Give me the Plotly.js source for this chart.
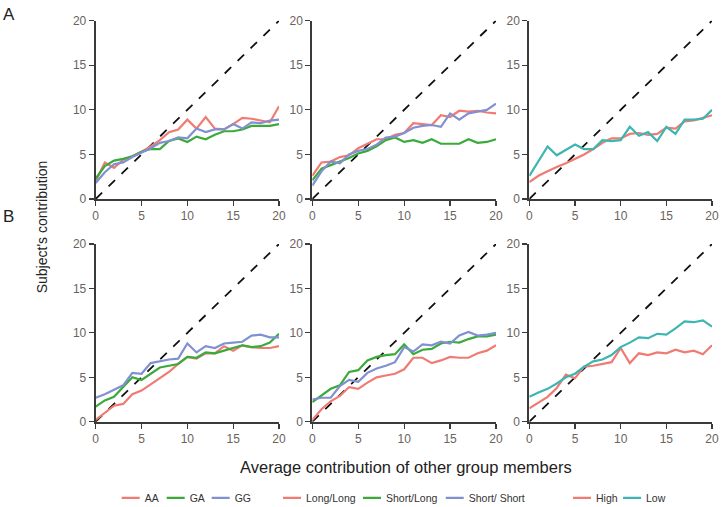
<!DOCTYPE html>
<html>
<head>
<meta charset="utf-8">
<script src="https://cdn.plot.ly/plotly-3.0.1.min.js"></script>
<style>html,body{margin:0;padding:0;background:#fff;}#chart{width:727px;height:507px;}</style>
</head>
<body>
<div id="chart"></div>
<script>
// x values: average contribution of other group members
const xs = [0,1,2,3,4,5,6,7,8,9,10,11,12,13,14,15,16,17,18,19,20];
const diag = [0,20];

// Row A, column 1 (genotype)
const A1_AA = [2.0,4.1,3.5,4.4,4.8,5.3,5.9,6.6,7.5,7.8,8.9,7.9,9.2,7.9,7.8,8.4,9.1,9.0,8.8,8.6,10.4];
const A1_GA = [2.3,3.7,4.3,4.5,4.8,5.3,5.6,5.6,6.5,6.8,6.4,7.0,6.7,7.2,7.6,7.6,7.8,8.2,8.2,8.2,8.4];
const A1_GG = [1.8,3.0,3.9,4.1,4.7,5.2,5.7,6.3,6.5,6.9,6.8,7.9,7.5,7.8,7.8,8.4,7.9,8.6,8.5,8.8,8.9];
// Row A, column 2 (allele length)
const A2_LL = [2.6,4.1,4.2,4.7,4.9,5.7,6.2,6.7,6.7,7.2,7.4,8.5,8.4,8.3,9.4,9.2,9.9,9.8,9.9,9.7,9.6];
const A2_SL = [2.1,3.4,3.8,4.2,4.6,5.1,5.4,5.9,6.6,6.9,6.4,6.6,6.3,6.7,6.2,6.2,6.2,6.7,6.3,6.4,6.7];
const A2_SS = [1.5,3.1,4.2,4.0,5.0,5.4,5.6,6.1,6.9,7.0,7.4,8.0,8.2,8.3,8.1,9.6,8.9,9.6,9.8,10.0,10.7];
// Row A, column 3 (high / low)
const A3_High = [1.9,2.6,3.1,3.6,4.0,4.5,5.0,5.6,6.3,6.8,6.8,7.3,7.4,7.2,7.3,8.0,7.9,8.7,8.8,9.1,9.4];
const A3_Low  = [2.6,4.2,5.9,4.9,5.5,6.1,5.6,5.6,6.6,6.5,6.6,8.1,7.1,7.5,6.5,8.1,7.3,8.9,8.9,9.0,10.0];

// Row B, column 1
const B1_AA = [0.2,1.0,1.8,2.0,3.1,3.5,4.2,4.9,5.6,6.5,7.3,7.1,7.7,7.7,8.5,8.0,8.6,8.4,8.3,8.3,8.5];
const B1_GA = [1.7,2.4,2.8,3.9,5.0,4.7,5.4,6.1,6.3,6.5,7.3,7.2,7.8,7.7,8.0,8.3,8.6,8.4,8.5,8.9,9.9];
const B1_GG = [2.7,3.1,3.6,4.1,5.5,5.4,6.6,6.8,7.0,7.1,8.8,7.8,8.5,8.3,8.8,8.9,9.0,9.7,9.8,9.5,9.5];
// Row B, column 2
const B2_LL = [0.2,1.4,2.3,2.9,3.9,3.7,4.4,5.0,5.2,5.4,5.9,7.2,7.2,6.6,6.9,7.3,7.2,7.2,7.7,8.0,8.6];
const B2_SL = [2.2,2.9,3.7,4.1,5.6,5.8,6.9,7.3,7.5,7.6,8.7,7.6,8.1,8.2,8.8,9.0,8.9,9.3,9.6,9.6,9.8];
const B2_SS = [2.5,2.7,2.7,4.0,4.7,4.5,5.5,6.0,6.3,6.7,8.4,7.9,8.7,8.6,9.0,8.8,9.7,10.1,9.7,9.8,10.0];
// Row B, column 3
const B3_High = [1.5,2.2,2.8,3.8,5.3,4.9,6.2,6.3,6.5,6.7,8.3,6.6,7.7,7.5,7.8,7.7,8.1,7.8,8.0,7.6,8.6];
const B3_Low  = [2.8,3.3,3.7,4.3,5.0,5.4,6.2,6.8,7.0,7.5,8.4,8.9,9.5,9.4,9.9,9.8,10.5,11.3,11.2,11.4,10.7];

const tickVals = [0,5,10,15,20];
const tickText = ["0","5","10","15","20"];
const names1 = ["AA","GA","GG"];
const names2 = ["Long/Long","Short/Long","Short/ Short"];
const names3 = ["High","Low"];

const RED = "#f07b73", GREEN = "#3aab3a", BLUE = "#8190d1", TEAL = "#3db6b1";

const traces = [];
function line(x, y, name, color, xa, ya, leg, show) {
  traces.push({x: x, y: y, name: name, type: "scatter", mode: "lines",
    line: {color: color, width: 2.2}, xaxis: xa, yaxis: ya,
    legend: leg, showlegend: show, hoverinfo: "x+y"});
}
function dashed(xa, ya) {
  traces.push({x: diag, y: diag, type: "scatter", mode: "lines",
    line: {color: "#111", width: 1.8, dash: "dash"}, xaxis: xa, yaxis: ya,
    showlegend: false, hoverinfo: "skip"});
}

// Row A (each legend entry gets its own small legend box so it sits where the original places it)
dashed("x","y");
line(xs, A1_AA, names1[0], RED, "x", "y", "legend", true);
line(xs, A1_GA, names1[1], GREEN, "x", "y", "legend2", true);
line(xs, A1_GG, names1[2], BLUE, "x", "y", "legend3", true);
dashed("x2","y2");
line(xs, A2_LL, names2[0], RED, "x2", "y2", "legend4", true);
line(xs, A2_SL, names2[1], GREEN, "x2", "y2", "legend5", true);
line(xs, A2_SS, names2[2], BLUE, "x2", "y2", "legend6", true);
dashed("x3","y3");
line(xs, A3_High, names3[0], RED, "x3", "y3", "legend7", true);
line(xs, A3_Low, names3[1], TEAL, "x3", "y3", "legend8", true);
// Row B
dashed("x4","y4");
line(xs, B1_AA, names1[0], RED, "x4", "y4", "legend", false);
line(xs, B1_GA, names1[1], GREEN, "x4", "y4", "legend2", false);
line(xs, B1_GG, names1[2], BLUE, "x4", "y4", "legend3", false);
dashed("x5","y5");
line(xs, B2_LL, names2[0], RED, "x5", "y5", "legend4", false);
line(xs, B2_SL, names2[1], GREEN, "x5", "y5", "legend5", false);
line(xs, B2_SS, names2[2], BLUE, "x5", "y5", "legend6", false);
dashed("x6","y6");
line(xs, B3_High, names3[0], RED, "x6", "y6", "legend7", false);
line(xs, B3_Low, names3[1], TEAL, "x6", "y6", "legend8", false);

const FONT = "Liberation Sans, Arial, sans-serif";
const TICKFONT = {size: 12, color: "#6a625e", family: FONT};
function ax(dom, anchor) {
  return {domain: dom, anchor: anchor, range: [0,20], tickvals: tickVals, ticktext: tickText,
    showline: true, linecolor: "#3a3a3a", linewidth: 2, ticks: "outside", ticklen: 5, tickwidth: 1.2,
    tickcolor: "#3a3a3a", showgrid: false, zeroline: false, tickfont: TICKFONT};
}
const cx1 = [0.1316, 0.3838], cx2 = [0.4296, 0.6823], cx3 = [0.7281, 0.9794];
const ryA = [0.6075, 0.9592], ryB = [0.1682, 0.5187];

function leg(x) {
  return {orientation: "h", yanchor: "middle", xanchor: "left", y: 0.018, x: x,
    font: {size: 10.5, color: "#333", family: FONT},
    bgcolor: "rgba(0,0,0,0)", itemwidth: 30, tracegroupgap: 0};
}

const layout = {
  width: 727, height: 507, margin: {l: 0, r: 0, t: 0, b: 0, autoexpand: false},
  paper_bgcolor: "#fff", plot_bgcolor: "#fff", font: {family: FONT},
  xaxis: ax(cx1, "y"), yaxis: ax(ryA, "x"),
  xaxis2: ax(cx2, "y2"), yaxis2: ax(ryA, "x2"),
  xaxis3: ax(cx3, "y3"), yaxis3: ax(ryA, "x3"),
  xaxis4: ax(cx1, "y4"), yaxis4: ax(ryB, "x4"),
  xaxis5: ax(cx2, "y5"), yaxis5: ax(ryB, "x5"),
  xaxis6: ax(cx3, "y6"), yaxis6: ax(ryB, "x6"),
  legend: leg(0.1440), legend2: leg(0.2059), legend3: leg(0.2678),
  legend4: leg(0.3659), legend5: leg(0.4759), legend6: leg(0.5897),
  legend7: leg(0.7648), legend8: leg(0.8336),
  annotations: [
    {text: "A", xref: "paper", yref: "paper", x: 0.002, y: 0.972, xanchor: "left", yanchor: "middle",
      showarrow: false, font: {size: 17, color: "#222", family: FONT}},
    {text: "B", xref: "paper", yref: "paper", x: 0.002, y: 0.572, xanchor: "left", yanchor: "middle",
      showarrow: false, font: {size: 17, color: "#222", family: FONT}},
    {text: "Subject's contribution", xref: "paper", yref: "paper", x: 0.058, y: 0.552,
      xanchor: "center", yanchor: "middle", textangle: -90, showarrow: false,
      font: {size: 14, color: "#222", family: FONT}},
    {text: "Average contribution of other group members", xref: "paper", yref: "paper", x: 0.558, y: 0.0795,
      xanchor: "center", yanchor: "middle", showarrow: false,
      font: {size: 16.5, color: "#222", family: FONT}}
  ]
};

const gd = document.getElementById("chart");
function compactLegend() {
  // shorter legend line samples, placed right before the label as in the original
  gd.querySelectorAll(".legendlines path").forEach(function (p) { p.setAttribute("d", "M17,0h18"); });
}
Plotly.newPlot(gd, traces, layout, {displayModeBar: false, staticPlot: true}).then(function () {
  compactLegend();
  gd.on("plotly_afterplot", compactLegend);
  setTimeout(compactLegend, 50);
});
</script>
</body>
</html>
